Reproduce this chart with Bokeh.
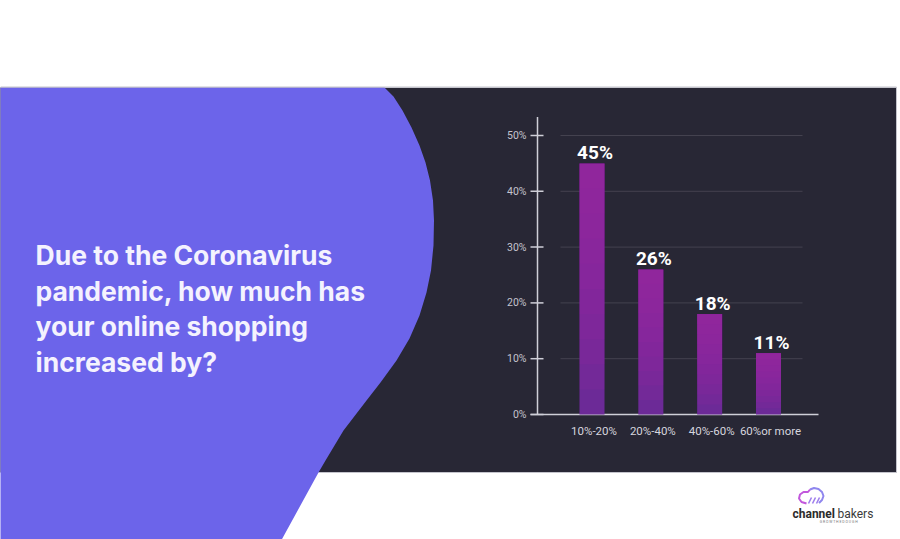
from bokeh.plotting import figure
from bokeh.models import Range1d
from bokeh.embed import file_html
from bokeh.resources import INLINE
from bokeh.core.properties import value

# ---------------- data ----------------
question_lines = ["Due to the Coronavirus", "pandemic, how much has",
                  "your online shopping", "increased by?"]
categories = ["10%-20%", "20%-40%", "40%-60%", "60%or more"]
shares = [45, 26, 18, 11]
share_labels = ["45%", "26%", "18%", "11%"]
y_ticks = [0, 10, 20, 30, 40, 50]
y_tick_labels = ["0%", "10%", "20%", "30%", "40%", "50%"]

# ---------------- layout helpers ----------------
W, H = 900, 539
OFF = 0  # Bokeh's page template has no body margin


def X(x):
    return x - OFF


def Y(y):
    return y - OFF


FONT = value("Roboto")
TFONT = value("Inter")

p = figure(width=W, height=H, output_backend="svg", toolbar_location=None,
           x_range=Range1d(0, W), y_range=Range1d(H, 0),
           x_axis_location=None, y_axis_location=None, min_border=0)
p.grid.visible = False
p.outline_line_color = None
p.background_fill_color = "white"
p.border_fill_color = "white"

# scales for the bar chart (percent axis and category positions)
px0 = H - Y(414)     # 0% line, pixels from bottom
px50 = H - Y(135)    # 50% line
s = (px50 - px0) / 50.0
p.extra_y_ranges = {"pct": Range1d(-px0 / s, (H - px0) / s)}
c0 = X(591.5)
step = (X(768) - X(591.5)) / 3.0
p.extra_x_ranges = {"cat": Range1d(-c0 / step, (W - c0) / step)}
idx = list(range(len(categories)))

# ---------------- background decoration ----------------
p.quad(left=X(-2), right=X(896), top=Y(87), bottom=Y(472),
       fill_color="#282735", line_color="#c4c4cc", line_width=1)

edge = [(-2, 87), (384, 87), (393, 96), (402, 110), (411, 127), (419, 145),
        (425, 162), (429.5, 180), (432.5, 200), (433.5, 220), (433, 245),
        (430.5, 270), (426, 292), (419, 315), (409, 338), (396, 360),
        (380, 382), (366, 400), (343, 430), (325, 460), (318, 472),
        (278, 545), (-2, 545)]
p.patch([X(a) for a, b in edge], [Y(b) for a, b in edge],
        fill_color="#6c64ea", line_color=None)
p.line([X(0), X(896)], [Y(86.5), Y(86.5)], line_color="#c4c4cc", line_width=1)

# ---------------- question text ----------------
TS = 26.5
baselines = [262.7, 298, 333.5, 369]
p.text(x=[X(35)] * len(question_lines), y=[Y(b) - 0.3 * TS for b in baselines],
       text=question_lines, text_font=TFONT, text_font_size=f"{TS}px",
       text_font_style="bold", text_color="#f4f2fe",
       text_align="left", text_baseline="middle")

# ---------------- chart ----------------
grid_vals = y_ticks[1:]
p.segment(x0=X(560), x1=X(802), y0=grid_vals, y1=grid_vals,
          y_range_name="pct", line_color="#44424f", line_width=1)
p.segment(x0=X(530), x1=X(543), y0=y_ticks, y1=y_ticks,
          y_range_name="pct", line_color="#cfcfd8", line_width=1.5)
p.segment(x0=X(537), x1=X(537), y0=0, y1=53.3,
          y_range_name="pct", line_color="#cfcfd8", line_width=1.5)
p.segment(x0=X(530), x1=X(818), y0=0, y1=0,
          y_range_name="pct", line_color="#cfcfd8", line_width=1.5)
p.text(x=X(526), y=y_ticks, text=y_tick_labels, y_range_name="pct",
       text_font=FONT, text_font_size="10.5px", text_color="#c4c3ce",
       text_align="right", text_baseline="middle")

# bars: purple base with a magenta sheen that strengthens towards the top
p.vbar(x=idx, top=shares, bottom=0, width=25 / step,
       x_range_name="cat", y_range_name="pct",
       fill_color="#642b96", line_color=None)
n_sheen = 10
for k in range(n_sheen):
    p.vbar(x=idx, top=shares, bottom=[v * k / n_sheen for v in shares],
           width=25 / step, x_range_name="cat", y_range_name="pct",
           fill_color="#a024a6", fill_alpha=0.13, line_color=None)

p.text(x=idx, y=shares, text=share_labels, x_range_name="cat", y_range_name="pct",
       x_offset=3, y_offset=-11, text_font=FONT, text_font_size="19px",
       text_font_style="bold", text_color="#ffffff",
       text_align="center", text_baseline="middle")
p.text(x=idx, y=Y(430), text=categories, x_range_name="cat",
       x_offset=2, text_font=FONT, text_font_size="11.5px", text_color="#d6d5de",
       text_align="center", text_baseline="middle")

# ---------------- logo ----------------
cloud = [(806, 503), (801, 501.5), (798.5, 498), (799.5, 494), (803, 491.5),
         (807.5, 491.5), (809.5, 489), (813.5, 487.5), (818, 488.5), (821.5, 491.5),
         (823, 495.5), (821.5, 499.5), (818.5, 502.5)]
p.line([X(a) for a, b in cloud[:7]], [Y(b) for a, b in cloud[:7]],
       line_color="#c157dc", line_width=2)
p.line([X(a) for a, b in cloud[6:]], [Y(b) for a, b in cloud[6:]],
       line_color="#8f86ee", line_width=2)
p.segment(x0=[X(808), X(812), X(816)], y0=[Y(503)] * 3,
          x1=[X(811), X(815), X(819)], y1=[Y(497)] * 3,
          line_color="#9d7cec", line_width=1.5)
p.text(x=X(792), y=Y(513), text=["channel"], text_font=FONT,
       text_font_size="12px", text_font_style="bold", text_color="#2b2b2b",
       text_align="left", text_baseline="middle")
p.text(x=X(837), y=Y(513), text=["bakers"], text_font=FONT,
       text_font_size="12px", text_color="#3a3a3a",
       text_align="left", text_baseline="middle")
p.text(x=X(840), y=Y(521.5), text=["G R O W   T H E   D O U G H"], text_font=FONT,
       text_font_size="3.5px", text_color="#777777",
       text_align="center", text_baseline="middle")

open("out.html", "w").write(file_html(p, INLINE, title="Online shopping increase"))
